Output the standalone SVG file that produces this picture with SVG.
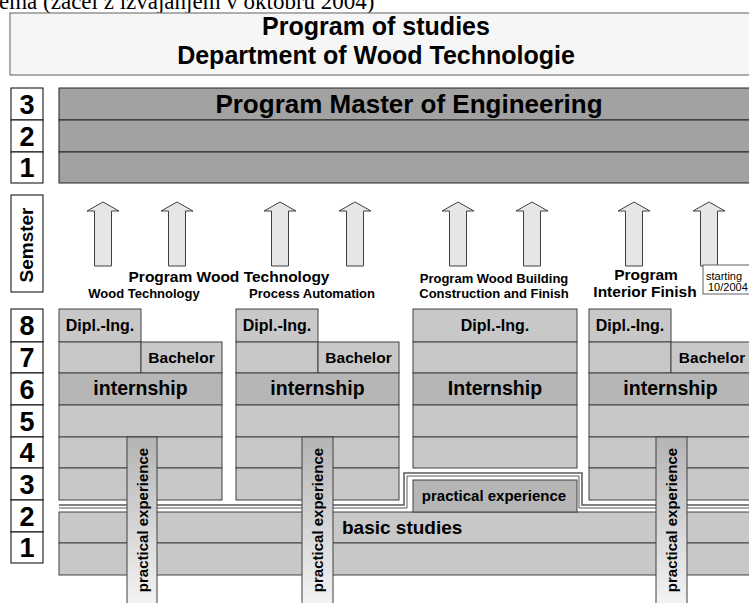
<svg xmlns="http://www.w3.org/2000/svg" width="749" height="603" viewBox="0 0 749 603">
<style>
text{font-family:"Liberation Sans",Arial,Helvetica,sans-serif;font-weight:bold;fill:#000}
.serif{font-family:"Liberation Serif","Times New Roman",serif;font-weight:normal;font-size:23px}
.hdr{font-size:25px;text-anchor:middle}
.mst{font-size:26px;text-anchor:middle}
.num{font-size:27px;text-anchor:middle}
.sem{font-size:19px;text-anchor:middle}
.pl{font-size:15.5px;text-anchor:middle}
.ps{font-size:13px;text-anchor:middle}
.dip{font-size:16px;text-anchor:middle}
.bac{font-size:15.5px;text-anchor:middle}
.int{font-size:19.5px;text-anchor:middle}
.bas{font-size:19px}
.pe{font-size:15px;text-anchor:middle}
.small{font-size:11px;font-weight:normal}
.nb{fill:#fff;stroke:#000;stroke-width:1}
.cell{fill:#c8c8c8;stroke:#404040;stroke-width:1}
.dark{fill:#b6b6b6;stroke:#404040;stroke-width:1}
.mrow{fill:#a2a2a2;stroke:#222;stroke-width:1}
.arr{fill:#e6e6e6;stroke:#404040;stroke-width:1}
.bar{fill:url(#barg);stroke:#404040;stroke-width:1}
.dbl{fill:none;stroke:#5a5a5a}
</style>
<defs>
<linearGradient id="barg" x1="0" y1="0" x2="0" y2="1">
<stop offset="0" stop-color="#b4b4b4"/>
<stop offset="1" stop-color="#f8f8f8"/>
</linearGradient>
<path id="arrow" d="M0,0 L16,9 L8.5,9 L8.5,64 L-8.5,64 L-8.5,9 L-16,9 Z"/>
</defs>

<text class="serif" x="-1" y="9">ema (začel z izvajanjem v oktobru 2004)</text>

<g id="header">
<rect x="10" y="13" width="760" height="62" fill="#f6f6f6" stroke="#606060"/>
<text class="hdr" x="376" y="35">Program of studies</text>
<text class="hdr" x="376" y="64">Department of Wood Technologie</text>
</g>

<g id="master">
<rect class="mrow" x="59" y="88" width="710" height="32"/>
<rect class="mrow" x="59" y="120" width="710" height="32"/>
<rect class="mrow" x="59" y="152" width="710" height="31"/>
<text class="mst" x="409" y="113">Program Master of Engineering</text>
</g>

<g id="semester-column">
<rect class="nb" x="11" y="88" width="32" height="32"/>
<rect class="nb" x="11" y="120" width="32" height="32"/>
<rect class="nb" x="11" y="152" width="32" height="31"/>
<text class="num" x="27" y="113.5">3</text>
<text class="num" x="27" y="145.5">2</text>
<text class="num" x="27" y="177">1</text>
<rect class="nb" x="11" y="195" width="32" height="97"/>
<text class="sem" transform="translate(33,245) rotate(-90)">Semster</text>
<rect class="nb" x="11" y="309" width="32" height="33"/>
<rect class="nb" x="11" y="342" width="32" height="31"/>
<rect class="nb" x="11" y="373" width="32" height="32"/>
<rect class="nb" x="11" y="405" width="32" height="32"/>
<rect class="nb" x="11" y="437" width="32" height="31"/>
<rect class="nb" x="11" y="468" width="32" height="32"/>
<rect class="nb" x="11" y="500" width="32" height="32"/>
<rect class="nb" x="11" y="532" width="32" height="31"/>
<text class="num" x="27" y="335">8</text>
<text class="num" x="27" y="367">7</text>
<text class="num" x="27" y="398.5">6</text>
<text class="num" x="27" y="430.5">5</text>
<text class="num" x="27" y="462">4</text>
<text class="num" x="27" y="493.5">3</text>
<text class="num" x="27" y="525.5">2</text>
<text class="num" x="27" y="557">1</text>
</g>

<g id="connectors">
<use href="#arrow" class="arr" x="103" y="202"/>
<use href="#arrow" class="arr" x="177" y="202"/>
<use href="#arrow" class="arr" x="280" y="202"/>
<use href="#arrow" class="arr" x="355" y="202"/>
<use href="#arrow" class="arr" x="458" y="202"/>
<use href="#arrow" class="arr" x="532" y="202"/>
<use href="#arrow" class="arr" x="634" y="202"/>
<use href="#arrow" class="arr" x="709" y="202"/>
</g>

<g id="labels">
<text class="pl" x="229" y="282">Program Wood Technology</text>
<text class="ps" x="144" y="298">Wood Technology</text>
<text class="ps" x="312" y="298">Process Automation</text>
<text class="ps" x="494" y="283">Program Wood Building</text>
<text class="ps" x="494" y="298">Construction and Finish</text>
<text class="pl" x="646" y="280">Program</text>
<text class="pl" x="645" y="297">Interior Finish</text>
<g id="starting-note">
<rect x="703" y="265" width="50" height="29" fill="#fff" stroke="#606060"/>
<text class="small" x="706" y="280">starting</text>
<text class="small" x="708" y="291">10/2004</text>
</g>
</g>

<g id="outline">
<path class="dbl" stroke-width="1.5" d="M59,505 H404 V473 H582 V505 H760"/>
<path class="dbl" stroke-width="1" d="M59,508 H407 V476 H579 V508 H760"/>
</g>

<g id="basic-studies">
<rect class="cell" x="59" y="512" width="710" height="31"/>
<rect class="cell" x="59" y="543" width="710" height="32"/>
<text class="bas" x="342" y="534">basic studies</text>
</g>

<g id="block-wood-technology">
<rect class="cell" x="59" y="309" width="82" height="33"/>
<rect class="cell" x="59" y="342" width="82" height="31"/>
<rect class="cell" x="141" y="342" width="81" height="31"/>
<rect class="dark" x="59" y="373" width="163" height="32"/>
<rect class="cell" x="59" y="405" width="163" height="32"/>
<rect class="cell" x="59" y="437" width="163" height="31"/>
<rect class="cell" x="59" y="468" width="163" height="32"/>
<text class="dip" x="100" y="331">Dipl.-Ing.</text>
<text class="bac" x="181.5" y="363">Bachelor</text>
<text class="int" x="140.5" y="395">internship</text>
</g>

<g id="block-process-automation">
<rect class="cell" x="236" y="309" width="82" height="33"/>
<rect class="cell" x="236" y="342" width="82" height="31"/>
<rect class="cell" x="318" y="342" width="81" height="31"/>
<rect class="dark" x="236" y="373" width="163" height="32"/>
<rect class="cell" x="236" y="405" width="163" height="32"/>
<rect class="cell" x="236" y="437" width="163" height="31"/>
<rect class="cell" x="236" y="468" width="163" height="32"/>
<text class="dip" x="277" y="331">Dipl.-Ing.</text>
<text class="bac" x="358.5" y="363">Bachelor</text>
<text class="int" x="317.5" y="395">internship</text>
</g>

<g id="block-wood-building">
<rect class="cell" x="413" y="309" width="164" height="33"/>
<rect class="cell" x="413" y="342" width="164" height="31"/>
<rect class="dark" x="413" y="373" width="164" height="32"/>
<rect class="cell" x="413" y="405" width="164" height="32"/>
<rect class="cell" x="413" y="437" width="164" height="31"/>
<text class="dip" x="495" y="331">Dipl.-Ing.</text>
<text class="int" x="495" y="395">Internship</text>
</g>

<g id="practical-experience-box">
<rect class="dark" x="413" y="480" width="164" height="32"/>
<text class="pe" x="494" y="501">practical experience</text>
</g>

<g id="block-interior-finish">
<rect class="cell" x="589" y="309" width="82" height="33"/>
<rect class="cell" x="589" y="342" width="82" height="31"/>
<rect class="cell" x="671" y="342" width="82" height="31"/>
<rect class="dark" x="589" y="373" width="180" height="32"/>
<rect class="cell" x="589" y="405" width="180" height="32"/>
<rect class="cell" x="589" y="437" width="180" height="31"/>
<rect class="cell" x="589" y="468" width="180" height="32"/>
<text class="dip" x="630" y="331">Dipl.-Ing.</text>
<text class="bac" x="712" y="363">Bachelor</text>
<text class="int" x="670.5" y="395">internship</text>
</g>

<g id="practical-bars">
<rect class="bar" x="127" y="437" width="30" height="180"/>
<text class="pe" transform="translate(147.5,520) rotate(-90)">practical experience</text>
<rect class="bar" x="302" y="437" width="31" height="180"/>
<text class="pe" transform="translate(323,520) rotate(-90)">practical experience</text>
<rect class="bar" x="656" y="437" width="31" height="180"/>
<text class="pe" transform="translate(677,520) rotate(-90)">practical experience</text>
</g>
</svg>
